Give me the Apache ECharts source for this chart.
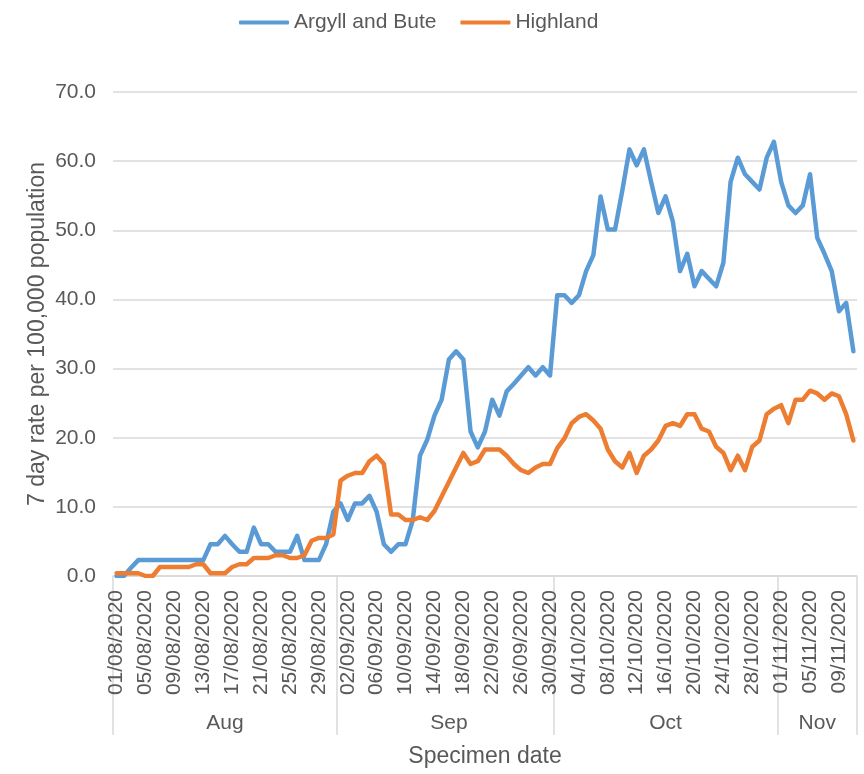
<!DOCTYPE html>
<html>
<head>
<meta charset="utf-8">
<title>7 day rate per 100,000 population</title>
<script src="https://cdn.jsdelivr.net/npm/echarts@6/dist/echarts.min.js"></script>
<style>
  html, body { margin: 0; padding: 0; background: #fff; }
  #main { width: 864px; height: 774px; }
</style>
</head>
<body>
<div id="main"></div>
<script>
// months on the second axis level and how many days each has in the data
var monthNames = ['Aug', 'Sep', 'Oct', 'Nov'];
var monthNums = ['08', '09', '10', '11'];
var monthDays = [31, 30, 31, 11];

// y axis ticks
var yTicks = [0, 10, 20, 30, 40, 50, 60, 70];

// 7 day rate per 100,000, one value per day from 01/08/2020
var argyll = [
  0, 0, 1.2, 2.3, 2.3, 2.3, 2.3, 2.3, 2.3, 2.3, 2.3, 2.3, 2.3, 4.6, 4.6, 5.8,
  4.6, 3.5, 3.5, 7.0, 4.6, 4.6, 3.5, 3.5, 3.5, 5.8, 2.3, 2.3, 2.3, 4.6, 9.3,
  10.5, 8.1, 10.5, 10.5, 11.6, 9.3, 4.6, 3.5, 4.6, 4.6, 8.1, 17.4, 19.7, 23.2, 25.5,
  31.3, 32.5, 31.3, 20.9, 18.6, 20.9, 25.5, 23.2, 26.7, 27.8, 29.0, 30.2, 29.0, 30.2, 29.0,
  40.6, 40.6, 39.5, 40.6, 44.1, 46.4, 54.9, 50.1, 50.1, 55.7, 61.7, 59.4, 61.7, 57.0, 52.5, 54.9,
  51.3, 44.1, 46.6, 41.9, 44.1, 43.0, 41.9, 45.3, 57.0, 60.5, 58.1, 57.0, 55.9, 60.5, 62.8,
  57.0, 53.6, 52.5, 53.6, 58.1, 48.9, 46.6, 44.1, 38.3, 39.5, 32.5
];
var highland = [
  0.4, 0.4, 0.4, 0.4, 0, 0, 1.3, 1.3, 1.3, 1.3, 1.3, 1.7, 1.7, 0.4, 0.4, 0.4,
  1.3, 1.7, 1.7, 2.6, 2.6, 2.6, 3.0, 3.0, 2.6, 2.6, 3.0, 5.1, 5.5, 5.5, 6.0,
  13.8, 14.5, 14.9, 14.9, 16.6, 17.4, 16.2, 8.9, 8.9, 8.1, 8.1, 8.5, 8.1, 9.4, 11.5,
  13.6, 15.7, 17.8, 16.2, 16.6, 18.3, 18.3, 18.3, 17.4, 16.2, 15.3, 14.9, 15.7, 16.2, 16.2,
  18.5, 19.9, 22.1, 23.0, 23.4, 22.5, 21.3, 18.3, 16.6, 15.7, 17.8, 14.9, 17.4, 18.3, 19.6, 21.7,
  22.1, 21.7, 23.4, 23.4, 21.3, 20.9, 18.7, 17.8, 15.3, 17.4, 15.3, 18.7, 19.6, 23.4, 24.2,
  24.7, 22.1, 25.5, 25.5, 26.8, 26.4, 25.5, 26.4, 26.0, 23.4, 19.6
];

// build dd/mm/2020 categories and remember where each month starts / sits
var dates = [];
var monthStart = {};
var monthMid = {};
monthDays.forEach(function (n, m) {
  monthStart[dates.length] = true;
  monthMid[dates.length + Math.floor(n / 2)] = monthNames[m];
  for (var d = 1; d <= n; d++) {
    dates.push((d < 10 ? '0' + d : '' + d) + '/' + monthNums[m] + '/2020');
  }
});

var txt = '#595959';
var grey = '#d9d9d9';
var font = 'Liberation Sans, Arial, sans-serif';

var myChart = echarts.init(document.getElementById('main'));
var option = {
  backgroundColor: '#fff',
  textStyle: { fontFamily: font },
  legend: {
    left: 234,
    top: 7,
    itemWidth: 50,
    itemHeight: 4,
    itemGap: 24,
    icon: 'roundRect',
    textStyle: { color: txt, fontSize: 21, fontFamily: font },
    data: ['Argyll and Bute', 'Highland']
  },
  grid: {
    left: 113,
    right: 7,
    top: 92,
    bottom: 198,
    outerBoundsMode: 'none',
    containLabel: false
  },
  xAxis: [
    {
      type: 'category',
      data: dates,
      boundaryGap: true,
      axisLine: { show: true, lineStyle: { color: grey, width: 1.5 } },
      // long ticks at month boundaries = the separators of the second level
      axisTick: {
        show: true,
        length: 159,
        interval: function (i) { return !!monthStart[i]; },
        lineStyle: { color: grey, width: 1.5 }
      },
      axisLabel: {
        interval: 3,
        rotate: 90,
        margin: 14,
        color: txt,
        fontSize: 21,
        fontFamily: font
      },
      splitLine: { show: false }
    },
    {
      type: 'category',
      data: dates,
      position: 'bottom',
      boundaryGap: true,
      axisLine: { show: false },
      axisTick: { show: false },
      axisLabel: {
        interval: function (i) { return monthMid[i] !== undefined; },
        formatter: function (v, i) { return monthMid[i] || ''; },
        margin: 137,
        color: txt,
        fontSize: 21,
        fontFamily: font
      },
      name: 'Specimen date',
      nameLocation: 'middle',
      nameGap: 169,
      nameMoveOverlap: false,
      nameTextStyle: { color: txt, fontSize: 23, fontFamily: font }
    }
  ],
  yAxis: {
    type: 'value',
    min: yTicks[0],
    max: yTicks[yTicks.length - 1],
    interval: 10,
    axisLine: { show: false },
    axisTick: { show: false },
    axisLabel: {
      margin: 17,
      color: txt,
      fontSize: 21,
      fontFamily: font,
      formatter: function (v) { return v.toFixed(1); }
    },
    splitLine: { lineStyle: { color: grey, width: 1.5 } },
    name: '7 day rate per 100,000 population',
    nameLocation: 'middle',
    nameRotate: 90,
    nameGap: 64,
    nameMoveOverlap: false,
    nameTextStyle: { color: txt, fontSize: 23, fontFamily: font }
  },
  series: [
    {
      name: 'Argyll and Bute',
      type: 'line',
      data: argyll,
      symbol: 'none',
      color: '#5b9bd5',
      lineStyle: { color: '#5b9bd5', width: 4.5, cap: 'round', join: 'round' },
      animation: false
    },
    {
      name: 'Highland',
      type: 'line',
      data: highland,
      symbol: 'none',
      color: '#ed7d31',
      lineStyle: { color: '#ed7d31', width: 4.5, cap: 'round', join: 'round' },
      animation: false
    }
  ]
};
myChart.setOption(option);
</script>
</body>
</html>
